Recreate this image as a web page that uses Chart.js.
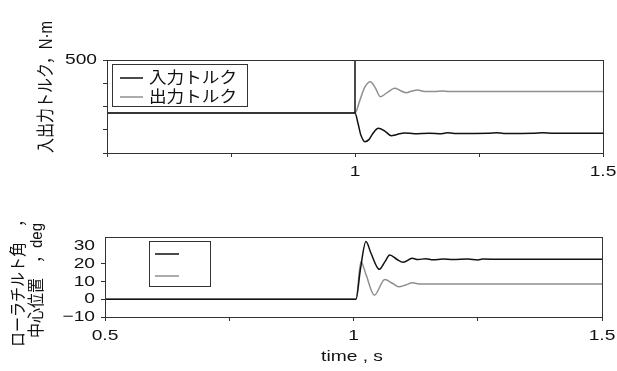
<!DOCTYPE html>
<html>
<head>
<meta charset="utf-8">
<script src="https://cdn.jsdelivr.net/npm/chart.js@4"></script>
<style>
body { margin: 0; background: #fff; }
#wrap { position: relative; width: 617px; height: 371px; }
canvas { position: absolute; left: 0; top: 0; }
</style>
</head>
<body>
<div id="wrap">
<canvas id="torque" width="617" height="371"></canvas>
<canvas id="roller" width="617" height="371"></canvas>
</div>
<script>
// top chart: input / output torque, N·m
const inTorqueT = [0.5, 1.0, 1.0, 1.0, 1.006, 1.012, 1.02, 1.028, 1.036, 1.047, 1.06, 1.073, 1.085, 1.1, 1.12, 1.15, 1.175, 1.186, 1.2, 1.27, 1.285, 1.3, 1.36, 1.378, 1.4, 1.5];
const inTorque = [215, 215, 500, 215, 160, 95, 61, 72, 105, 133, 118, 93, 100, 108, 104, 106, 104, 109, 105, 106, 109, 105, 106, 109, 106, 106];
const outTorqueT = [0.5, 1.0, 1.01, 1.02, 1.031, 1.041, 1.051, 1.065, 1.08, 1.092, 1.103, 1.115, 1.126, 1.14, 1.16, 1.176, 1.19, 1.5];
const outTorque = [215, 215, 285, 355, 383, 350, 303, 325, 348, 335, 324, 333, 339, 331, 330, 334, 330, 330];

// bottom chart: roller tilt angle / centre position, deg
const tiltT = [0.5, 1.005, 1.014, 1.025, 1.035, 1.052, 1.063, 1.073, 1.087, 1.1, 1.118, 1.13, 1.145, 1.16, 1.18, 1.2, 1.23, 1.25, 1.26, 1.3, 1.5];
const tilt = [0, 0, 17, 32.4, 26, 16.8, 21, 24.9, 22.5, 20.8, 23, 22.3, 22.8, 22.2, 22.6, 22.3, 22.6, 22.1, 22.6, 22.5, 22.5];
const posT = [0.5, 1.005, 1.015, 1.025, 1.042, 1.063, 1.078, 1.091, 1.105, 1.118, 1.135, 1.5];
const pos = [0, 0, 21.1, 14, 2.3, 11.1, 9, 7, 8, 9.2, 8.5, 8.5];

const topLabels = ['入力トルク', '出力トルク'];
const bottomLabels = ['ローラチルト角', '中心位置'];

const topXTicks = [1, 1.5];
const topYTicks = [500];
const bottomXTicks = [0.5, 1, 1.5];
const bottomYTicks = [-10, 0, 10, 20, 30];

const FONT = "'Liberation Sans', 'Noto Sans CJK JP', sans-serif";
const INK = '#111';
const AXIS = '#333';

function pts(xs, ys) {
    return xs.map((x, i) => ({ x: x, y: ys[i] }));
}

function fmt(v) {
    return v < 0 ? '\u2212' + Math.abs(v) : String(v);
}

function drawText(ctx, s, x, y, o) {
    ctx.save();
    ctx.translate(x, y);
    ctx.scale(o.sx || 1, 1);
    if (o.rot) ctx.rotate(-Math.PI / 2);
    ctx.font = (o.size || 15) + 'px ' + (o.font || FONT);
    ctx.fillStyle = INK;
    ctx.textAlign = o.align || 'center';
    ctx.textBaseline = o.baseline || 'middle';
    ctx.fillText(s, 0, 0);
    ctx.restore();
}

const framePlugin = {
    id: 'frame',
    afterDraw(chart, args, opts) {
        const ctx = chart.ctx;
        const a = chart.chartArea;
        ctx.save();
        ctx.strokeStyle = AXIS;
        ctx.lineWidth = 1;
        ctx.strokeRect(Math.round(a.left) + 0.5, Math.round(a.top) + 0.5,
            Math.round(a.right - a.left), Math.round(a.bottom - a.top));
        ctx.restore();

        opts.xTicks.forEach(v => {
            drawText(ctx, fmt(v), chart.scales.x.getPixelForValue(v), a.bottom + 19, { sx: 1.28 });
        });
        opts.yTicks.forEach(v => {
            drawText(ctx, fmt(v), a.left - 10, chart.scales.y.getPixelForValue(v), { sx: 1.28, align: 'right' });
        });
        opts.titles.forEach(t => {
            drawText(ctx, t.text, t.x, t.y, t);
        });

        // legend with a border
        const lg = opts.legend;
        ctx.save();
        ctx.strokeStyle = AXIS;
        ctx.lineWidth = 1;
        ctx.strokeRect(lg.x + 0.5, lg.y + 0.5, lg.w, lg.h);
        chart.data.datasets.forEach((ds, i) => {
            const ly = lg.rows[i];
            ctx.strokeStyle = ds.borderColor;
            ctx.lineWidth = 1.5;
            ctx.beginPath();
            ctx.moveTo(lg.lineX, ly);
            ctx.lineTo(lg.lineX + lg.lineW, ly);
            ctx.stroke();
            if (lg.showText) {
                drawText(ctx, ds.label, lg.textX, ly - 1, { size: 16, sx: 1.1, align: 'left', font: "'Noto Sans CJK JP', sans-serif" });
            }
        });
        ctx.restore();
    }
};

function makeChart(id, datasets, box, yMin, yMax, yStep, frame) {
    return new Chart(id, {
        type: 'line',
        data: { datasets: datasets },
        options: {
            responsive: false,
            animation: false,
            events: [],
            layout: { padding: { top: box.top, right: 617 - box.right, left: 0, bottom: 0 } },
            elements: {
                point: { radius: 0 },
                line: { borderWidth: 1.5, cubicInterpolationMode: 'monotone', fill: false }
            },
            scales: {
                x: {
                    type: 'linear', min: 0.5, max: 1.5,
                    ticks: { display: false, stepSize: 0.25 },
                    grid: { drawOnChartArea: false, drawTicks: true, tickLength: 4, color: AXIS },
                    border: { display: false },
                    afterFit: s => { s.height = 371 - box.bottom; }
                },
                y: {
                    min: yMin, max: yMax,
                    ticks: { display: false, stepSize: yStep },
                    afterBuildTicks: s => { s.ticks = s.ticks.filter(t => (t.value - yMin) % yStep === 0); },
                    grid: { drawOnChartArea: false, drawTicks: true, tickLength: 4, color: AXIS },
                    border: { display: false },
                    afterFit: s => { s.width = box.left; }
                }
            },
            plugins: {
                legend: { display: false },
                tooltip: { enabled: false },
                frame: frame
            }
        },
        plugins: [framePlugin]
    });
}

makeChart('torque', [
    { label: topLabels[0], data: pts(inTorqueT, inTorque), borderColor: '#111' },
    { label: topLabels[1], data: pts(outTorqueT, outTorque), borderColor: '#8f8f8f' }
], { left: 107, right: 603, top: 60, bottom: 153 }, 0, 500, 125, {
    xTicks: topXTicks,
    yTicks: topYTicks,
    titles: [
        { text: '入出力トルク，N·m', x: 47, y: 153, rot: true, align: 'left', size: 15, sx: 1.2 }
    ],
    legend: { x: 112, y: 64, w: 135, h: 42, rows: [78, 97], lineX: 120, lineW: 23, textX: 149, showText: true }
});

makeChart('roller', [
    { label: bottomLabels[0], data: pts(tiltT, tilt), borderColor: '#111' },
    { label: bottomLabels[1], data: pts(posT, pos), borderColor: '#8f8f8f' }
], { left: 105, right: 602, top: 237, bottom: 317 }, -10, 35, 10, {
    xTicks: bottomXTicks,
    yTicks: bottomYTicks,
    titles: [
        { text: 'ローラチルト角　，', x: 19, y: 347, rot: true, align: 'left', size: 15, sx: 1.1 },
        { text: '中心位置　，deg', x: 37, y: 338, rot: true, align: 'left', size: 15, sx: 1.1 },
        { text: 'time , s', x: 352, y: 357, sx: 1.28 }
    ],
    legend: { x: 149, y: 241, w: 61, h: 45, rows: [254, 276], lineX: 155, lineW: 24, textX: 185, showText: false }
});
</script>
</body>
</html>
